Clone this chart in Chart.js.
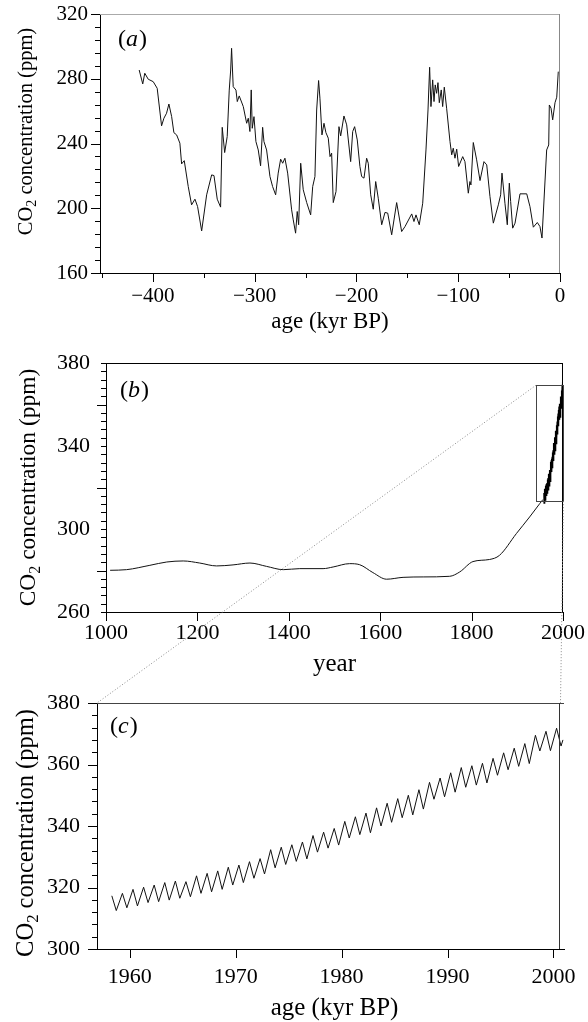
<!DOCTYPE html>
<html>
<head>
<meta charset="utf-8">
<script src="https://cdn.jsdelivr.net/npm/chart.js@4.4.0/dist/chart.umd.min.js"></script>
<style>
  body { margin: 0; background: #fff; width: 588px; height: 1022px; position: relative; overflow: hidden; }
  canvas { position: absolute; left: 0; }
</style>
</head>
<body>
<canvas id="chart-a" width="588" height="340" style="top:0px"></canvas>
<canvas id="chart-b" width="588" height="340" style="top:340px"></canvas>
<canvas id="chart-c" width="588" height="342" style="top:680px"></canvas>
<canvas id="overlay" width="588" height="1022" style="top:0px;pointer-events:none"></canvas>
<script>
// (a) ice core record, kyr before present
const iceAgeKyr = [-413.5, -410.0, -408.0, -404.6, -399.7, -395.8, -391.5, -389.2, -386.6, -384.3,
  -381.6, -379.4, -376.7, -373.5, -371.8, -369.2, -365.3, -362.0, -358.7, -356.1,
  -352.1, -347.2, -342.3, -340.0, -336.8, -333.5, -331.9, -329.5, -327.0, -325.0,
  -323.6, -322.7, -321.1, -318.4, -317.1, -315.2, -311.2, -307.9, -306.3, -304.7,
  -303.4, -302.4, -300.7, -298.8, -296.5, -294.2, -292.2, -290.9, -288.3, -285.0,
  -282.4, -279.4, -276.9, -274.5, -272.5, -270.3, -267.6, -263.7, -262.1, -259.8,
  -258.2, -256.8, -254.8, -252.3, -248.9, -245.0, -243.0, -240.8, -239.1, -237.2,
  -235.9, -233.9, -231.9, -230.0, -227.7, -226.0, -224.4, -222.8, -220.1, -217.2,
  -215.5, -212.3, -209.6, -205.7, -203.7, -201.8, -199.2, -196.6, -194.9, -192.6,
  -190.0, -188.4, -186.0, -183.5, -181.1, -178.6, -175.2, -172.0, -169.3, -165.4,
  -160.5, -155.6, -152.3, -145.7, -143.5, -141.5, -138.3, -134.9, -131.7, -129.7,
  -128.1, -126.8, -125.1, -123.8, -122.6, -121.2, -119.9, -118.6, -116.7, -115.3,
  -113.7, -111.4, -108.1, -106.4, -104.9, -103.2, -101.5, -99.6, -95.6, -93.4,
  -90.1, -88.5, -87.5, -85.2, -81.9, -78.6, -74.7, -72.0, -68.8, -65.5,
  -60.6, -58.3, -57.0, -54.1, -51.8, -49.8, -48.5, -46.5, -44.2, -39.3,
  -32.7, -29.5, -26.2, -22.3, -19.7, -17.7, -13.1, -11.1, -10.5, -8.8,
  -7.2, -4.9, -3.2, -1.7];
const iceCO2 = [285.4, 276.8, 283.4, 279.7, 278.2, 274.1, 250.9, 255.6, 258.7, 264.4,
  256.6, 246.7, 245.3, 240.2, 227.4, 229.4, 213.4, 202.1, 205.6, 201.0,
  186.0, 208.3, 220.6, 220.2, 205.6, 200.7, 250.0, 234.4, 244.3, 273.0,
  285.4, 298.8, 275.1, 273.0, 265.9, 269.4, 262.8, 252.5, 255.6, 247.4,
  273.1, 249.4, 256.6, 241.2, 236.0, 226.2, 250.0, 241.2, 236.0, 219.6,
  213.4, 208.3, 221.7, 230.3, 227.8, 230.9, 221.7, 199.0, 192.8, 184.6,
  198.0, 189.8, 227.8, 211.4, 203.5, 195.9, 213.4, 219.6, 260.7, 278.9,
  268.0, 245.3, 252.5, 246.7, 243.3, 231.9, 234.0, 203.5, 210.3, 250.4,
  244.7, 257.0, 251.5, 228.8, 247.4, 250.4, 242.2, 225.8, 219.6, 218.6,
  230.9, 227.8, 208.3, 199.4, 216.5, 206.2, 189.8, 197.4, 197.0, 183.6,
  203.5, 185.6, 188.7, 196.5, 191.8, 195.9, 189.8, 203.1, 236.0, 260.7,
  287.1, 262.8, 279.3, 265.9, 276.2, 271.0, 277.6, 265.2, 273.1, 262.8,
  274.8, 261.8, 241.2, 233.0, 237.1, 230.9, 236.5, 225.8, 231.9, 228.8,
  209.3, 216.5, 214.4, 240.6, 229.9, 217.1, 228.8, 226.8, 207.2, 190.8,
  202.1, 208.3, 221.7, 203.1, 189.8, 215.5, 204.2, 187.7, 190.8, 208.9,
  208.9, 201.0, 188.3, 191.2, 188.7, 181.6, 236.0, 239.1, 263.8, 261.8,
  254.6, 265.2, 268.6, 284.4];

// (b) last millennium, smoothed ice record up to the start of direct measurements
const lawYear = [1009, 1045, 1096, 1133, 1169, 1205, 1242, 1278, 1315, 1351, 1388, 1424,
  1475, 1497, 1533, 1555, 1584, 1614, 1650, 1694, 1752, 1774, 1803, 1839, 1861,
  1898, 1927, 1949, 1956];
const lawCO2 = [280.1, 280.4, 282.5, 284.1, 284.6, 283.6, 282.2, 282.7, 283.6, 282.0, 280.4, 280.9,
  280.9, 281.7, 283.3, 282.8, 279.0, 275.8, 276.7, 276.9, 277.2, 279.3, 284.3, 285.3, 287.3,
  297.8, 305.8, 312.2, 314.2];

// (c) direct measurements: yearly spring high and autumn low
const mloYear = [1958, 1959, 1960, 1961, 1962, 1963, 1964, 1965, 1966, 1967, 1968, 1969, 1970,
  1971, 1972, 1973, 1974, 1975, 1976, 1977, 1978, 1979, 1980, 1981, 1982, 1983, 1984, 1985,
  1986, 1987, 1988, 1989, 1990, 1991, 1992, 1993, 1994, 1995, 1996, 1997, 1998, 1999, 2000];
const mloPeak = [317.3, 318.1, 319.4, 320.1, 320.8, 321.6, 322.1, 321.9, 323.8, 324.6, 325.4, 326.6, 327.3,
  328.4, 329.4, 332.3, 333.1, 333.9, 334.8, 336.9, 338.0, 339.2, 341.5, 343.0, 344.2, 345.9, 347.4, 348.9,
  350.0, 351.8, 354.2, 355.6, 357.3, 359.0, 359.6, 360.4, 362.0, 363.8, 365.3, 366.8, 369.5, 370.8, 371.8];
const mloTrough = [312.5, 313.4, 314.0, 315.1, 315.4, 315.9, 316.5, 317.0, 318.1, 318.6, 319.4, 320.8, 321.6,
  323.0, 324.4, 326.4, 327.5, 328.5, 329.3, 331.5, 332.8, 333.8, 336.1, 337.2, 337.8, 340.0, 341.2, 342.7,
  343.6, 345.5, 348.7, 349.5, 351.0, 352.6, 353.3, 354.0, 356.5, 358.3, 359.4, 360.3, 364.4, 364.5, 366.0];
const mloTailYear = [2000.9];
const mloTailCO2 = [368.0];
const PEAK_PHASE = 0.3;    // high in late spring
const TROUGH_PHASE = 0.72; // low in early autumn

// tick values
const ageTicks = [-400, -300, -200, -100, 0];
const ppmTicksA = [160, 200, 240, 280, 320];
const yearTicksB = [1000, 1200, 1400, 1600, 1800, 2000];
const ppmTicksB = [260, 300, 340, 380];
const yearTicksC = [1960, 1970, 1980, 1990, 2000];
const ppmTicksC = [300, 320, 340, 360, 380];

// zoom box drawn in (b), and the right edge line of (c)
const zoomYears = [1941, 2000];
const zoomPpm = [313.4, 369.3];
const edgeYearC = 2000.5;

const SERIF = "'Liberation Serif', 'Times New Roman', serif";

const icePoints = iceAgeKyr.map((x, i) => ({ x: x, y: iceCO2[i] }));
const lawPoints = lawYear.map((x, i) => ({ x: x, y: lawCO2[i] }));
const mloPoints = [];
mloYear.forEach((yr, i) => {
  mloPoints.push({ x: yr + PEAK_PHASE, y: mloPeak[i] });
  mloPoints.push({ x: yr + TROUGH_PHASE, y: mloTrough[i] });
});
mloTailYear.forEach((t, i) => mloPoints.push({ x: t, y: mloTailCO2[i] }));

function fmt(v) {
  return v < 0 ? '\u2212' + Math.abs(v) : String(v);
}

// frame, ticks, panel letter and axis titles
const decor = {
  id: 'decor',
  afterDraw(chart, args, o) {
    const ctx = chart.ctx;
    const a = chart.chartArea;
    const xs = chart.scales.x, ys = chart.scales.y;
    ctx.save();

    // top and right frame
    ctx.lineWidth = 1;
    ctx.strokeStyle = o.topColor;
    ctx.beginPath();
    ctx.moveTo(a.left, a.top + 0.5);
    ctx.lineTo(a.right, a.top + 0.5);
    ctx.stroke();
    if (o.rightColor) {
      const rx = o.rightAt != null ? Math.round(xs.getPixelForValue(o.rightAt)) + 0.5 : a.right - 0.5;
      ctx.strokeStyle = o.rightColor;
      ctx.beginPath();
      ctx.moveTo(rx, a.top);
      ctx.lineTo(rx, a.bottom);
      ctx.stroke();
    }

    // tick marks, outward
    ctx.strokeStyle = '#000';
    const tickRun = (scale, step, len, horiz) => {
      const n0 = Math.ceil(scale.min / step - 1e-6), n1 = Math.floor(scale.max / step + 1e-6);
      for (let n = n0; n <= n1; n++) {
        const p = Math.round(scale.getPixelForValue(n * step)) + 0.5;
        ctx.beginPath();
        if (horiz) { ctx.moveTo(p, a.bottom); ctx.lineTo(p, a.bottom + len); }
        else { ctx.moveTo(a.left - len, p); ctx.lineTo(a.left, p); }
        ctx.stroke();
      }
    };
    tickRun(ys, o.yMinor, 5, false);
    tickRun(ys, o.yMajor, 9, false);
    tickRun(xs, o.xMinor, 5, true);
    tickRun(xs, o.xMajor, 9, true);

    // zoom box
    if (o.box) {
      const x0 = xs.getPixelForValue(zoomYears[0]), x1 = xs.getPixelForValue(zoomYears[1]);
      const y0 = ys.getPixelForValue(zoomPpm[1]), y1 = ys.getPixelForValue(zoomPpm[0]);
      ctx.strokeStyle = '#444';
      ctx.strokeRect(Math.round(x0) + 0.5, Math.round(y0) + 0.5, Math.round(x1 - x0), Math.round(y1 - y0));
    }

    ctx.fillStyle = '#000';
    ctx.textBaseline = 'middle';
    ctx.textAlign = 'left';

    // panel letter
    const lf = o.letterSize + 'px ' + SERIF;
    const lfi = 'italic ' + o.letterSize + 'px ' + SERIF;
    let lx = a.left + o.letterDx;
    const ly = a.top + o.letterDy;
    ctx.font = lf; ctx.fillText('(', lx, ly); lx += ctx.measureText('(').width;
    ctx.font = lfi; ctx.fillText(o.letter, lx, ly); lx += ctx.measureText(o.letter).width + 1;
    ctx.font = lf; ctx.fillText(')', lx, ly);

    // x title
    ctx.font = o.xTitleSize + 'px ' + SERIF;
    ctx.textAlign = 'center';
    ctx.fillText(o.xTitle, (a.left + a.right) / 2 + (o.xTitleDx || 0), a.bottom + o.xTitleDy);

    // y title with subscript
    const fs = o.yTitleSize, sub = fs * 0.68;
    const f1 = fs + 'px ' + SERIF, f2 = sub + 'px ' + SERIF;
    ctx.font = f1;
    const w1 = ctx.measureText('CO').width, w3 = ctx.measureText(' concentration (ppm)').width;
    ctx.font = f2;
    const w2 = ctx.measureText('2').width;
    const total = w1 + w2 + w3;
    ctx.translate(o.yTitleX, (a.top + a.bottom) / 2 + (o.yTitleDy || 0));
    ctx.rotate(-Math.PI / 2);
    ctx.textAlign = 'left';
    ctx.textBaseline = 'alphabetic';
    const base = fs * 0.33;
    ctx.font = f1; ctx.fillText('CO', -total / 2, base);
    ctx.font = f2; ctx.fillText('2', -total / 2 + w1, base + fs * 0.22);
    ctx.font = f1; ctx.fillText(' concentration (ppm)', -total / 2 + w1 + w2, base);
    ctx.restore();
  }
};

function makePanel(id, datasets, c) {
  return new Chart(document.getElementById(id), {
    type: 'line',
    data: { datasets: datasets },
    options: {
      responsive: false,
      animation: false,
      devicePixelRatio: 1,
      layout: { padding: { top: c.top, right: c.right, left: 0, bottom: 0 } },
      plugins: { legend: { display: false }, tooltip: { enabled: false }, decor: c.decor },
      elements: { point: { radius: 0 } },
      scales: {
        x: {
          type: 'linear', min: c.xMin, max: c.xMax,
          grid: { display: false, drawTicks: false },
          border: { display: true, color: '#000', width: 1 },
          afterBuildTicks: s => { s.ticks = c.xTicks.map(v => ({ value: v })); },
          afterFit: s => { s.height = c.xHeight; s.paddingLeft = 0; s.paddingRight = 0; },
          ticks: { autoSkip: false, maxRotation: 0, padding: c.xPad, color: '#000',
                   font: { family: SERIF, size: c.tickSize }, callback: fmt }
        },
        y: {
          min: c.yMin, max: c.yMax,
          grid: { display: false, drawTicks: false },
          border: { display: true, color: '#000', width: 1 },
          afterBuildTicks: s => { s.ticks = c.yTicks.map(v => ({ value: v })); },
          afterFit: s => { s.width = c.yWidth; s.paddingTop = 0; s.paddingBottom = 0; },
          ticks: { padding: c.yPad, color: '#000',
                   font: { family: SERIF, size: c.tickSize }, callback: fmt }
        }
      }
    },
    plugins: [decor]
  });
}

const chartA = makePanel('chart-a', [
  { data: icePoints, borderColor: '#111', borderWidth: 1, tension: 0 }
], {
  top: 14, right: 28, xHeight: 67, yWidth: 100,
  xMin: -452, xMax: 0, yMin: 160, yMax: 320, xTicks: ageTicks, yTicks: ppmTicksA,
  tickSize: 21, xPad: 11, yPad: 12,
  decor: { topColor: '#aaa', rightColor: '#888', yMajor: 40, yMinor: 8, xMajor: 100, xMinor: 50,
           letter: 'a', letterSize: 24, letterDx: 18, letterDy: 26,
           xTitle: 'age (kyr BP)', xTitleSize: 23, xTitleDy: 49,
           yTitleSize: 20.5, yTitleX: 25, yTitleDy: -12 }
});

const chartB = makePanel('chart-b', [
  { data: lawPoints, borderColor: '#111', borderWidth: 1, tension: 0.4, cubicInterpolationMode: 'monotone' },
  { data: mloPoints, borderColor: '#000', borderWidth: 1.4, tension: 0 }
], {
  top: 23, right: 25, xHeight: 68, yWidth: 106,
  xMin: 1000, xMax: 2000, yMin: 260, yMax: 380, xTicks: yearTicksB, yTicks: ppmTicksB,
  tickSize: 22, xPad: 8, yPad: 16,
  decor: { topColor: '#000', rightColor: '#000', yMajor: 40, yMinor: 4, xMajor: 200, xMinor: 200,
           letter: 'b', letterSize: 24, letterDx: 14, letterDy: 28, box: true,
           xTitle: 'year', xTitleSize: 25, xTitleDy: 52,
           yTitleSize: 23.5, yTitleX: 27 }
});

const chartC = makePanel('chart-c', [
  { data: mloPoints, borderColor: '#111', borderWidth: 1, tension: 0 }
], {
  top: 23, right: 24, xHeight: 73, yWidth: 97,
  xMin: 1956.9, xMax: 2001, yMin: 300, yMax: 380, xTicks: yearTicksC, yTicks: ppmTicksC,
  tickSize: 22, xPad: 15, yPad: 17,
  decor: { topColor: '#444', rightColor: '#333', rightAt: edgeYearC, yMajor: 20, yMinor: 4, xMajor: 10, xMinor: 10,
           letter: 'c', letterSize: 24, letterDx: 13, letterDy: 24,
           xTitle: 'age (kyr BP)', xTitleSize: 25, xTitleDy: 59, xTitleDx: 4,
           yTitleSize: 24.5, yTitleX: 25, yTitleDy: 7 }
});

// dotted lines linking the box in (b) to panel (c)
(function () {
  const ctx = document.getElementById('overlay').getContext('2d');
  const topB = 340, topC = 680;
  const bx = chartB.scales.x, by = chartB.scales.y, cx = chartC.scales.x, cy = chartC.scales.y;
  ctx.strokeStyle = '#888';
  ctx.lineWidth = 1;
  ctx.setLineDash([1, 2]);
  ctx.beginPath();
  ctx.moveTo(bx.getPixelForValue(zoomYears[0]), topB + by.getPixelForValue(zoomPpm[1]));
  ctx.lineTo(cx.left, topC + cy.top);
  ctx.moveTo(Math.round(bx.getPixelForValue(zoomYears[1])) + 0.5, topB + by.getPixelForValue(zoomPpm[0]));
  ctx.lineTo(Math.round(cx.getPixelForValue(edgeYearC)) + 1.5, topC + cy.top);
  ctx.stroke();
})();
</script>
</body>
</html>
